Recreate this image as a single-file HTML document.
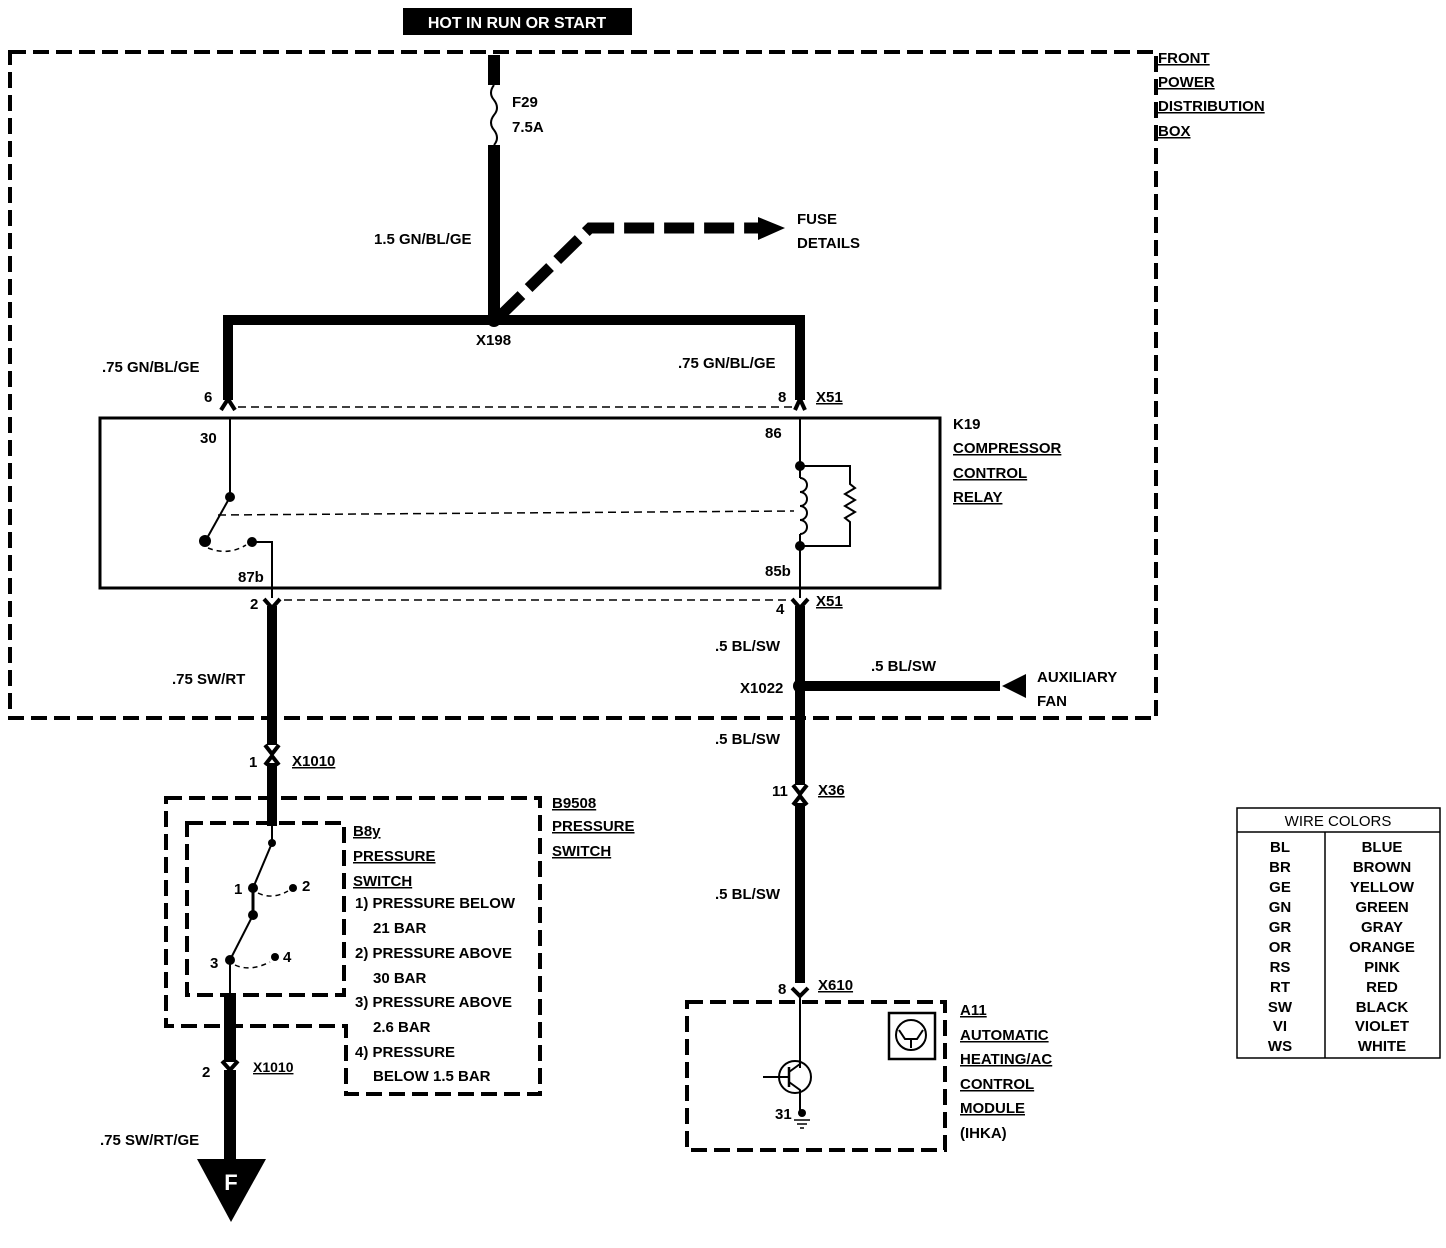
<!DOCTYPE html>
<html><head><style>
body{margin:0;background:#fff}
svg{display:block}
text{font-family:"Liberation Sans",sans-serif;font-weight:bold;font-size:15px;fill:#000}
.u{text-decoration:underline}
</style></head><body>
<svg width="1446" height="1248" viewBox="0 0 1446 1248" xmlns="http://www.w3.org/2000/svg">
<rect x="403" y="8" width="229" height="27" fill="#000"/>
<text x="517" y="28" text-anchor="middle" style="fill:#fff;font-size:16px">HOT IN RUN OR START</text>
<!-- outer box -->
<rect x="10" y="52" width="1146" height="666" fill="none" stroke="#000" stroke-width="4" stroke-dasharray="16,7"/>
<text x="1158" y="63" class="u">FRONT</text>
<text x="1158" y="87" class="u">POWER</text>
<text x="1158" y="111" class="u">DISTRIBUTION</text>
<text x="1158" y="136" class="u">BOX</text>
<!-- feed & fuse -->
<line x1="494" y1="55" x2="494" y2="85" stroke="#000" stroke-width="12"/>
<path d="M494 85 q-6 8 0 15 q6 8 0 15 q-6 8 0 15 q6 8 0 15" fill="none" stroke="#000" stroke-width="2"/>
<line x1="494" y1="145" x2="494" y2="320" stroke="#000" stroke-width="12"/>
<text x="512" y="107">F29</text><text x="512" y="132">7.5A</text>
<text x="374" y="244">1.5  GN/BL/GE</text>
<path d="M500 316 L590 228 L760 228" fill="none" stroke="#000" stroke-width="11" stroke-dasharray="30,10"/>
<polygon points="758,217 785,228 758,240" fill="#000"/>
<text x="797" y="224">FUSE</text><text x="797" y="248">DETAILS</text>
<path d="M228 400 L228 320 L800 320 L800 400" fill="none" stroke="#000" stroke-width="10"/>
<circle cx="494" cy="320" r="7" fill="#000"/>
<text x="476" y="345">X198</text>
<text x="102" y="372">.75 GN/BL/GE</text>
<text x="678" y="368">.75  GN/BL/GE</text>
<text x="204" y="402">6</text><text x="778" y="402">8</text><text x="816" y="402" class="u">X51</text>
<path d="M221 410 L228 399 L235 410 M795 410 L800 399 L805 410" fill="none" stroke="#000" stroke-width="4"/>
<line x1="238" y1="407" x2="792" y2="407" stroke="#000" stroke-width="1.5" stroke-dasharray="8,5"/>
<!-- relay -->
<rect x="100" y="418" width="840" height="170" fill="none" stroke="#000" stroke-width="3"/>
<text x="953" y="429">K19</text>
<text x="953" y="453" class="u">COMPRESSOR</text>
<text x="953" y="478" class="u">CONTROL</text>
<text x="953" y="502" class="u">RELAY</text>
<text x="200" y="443">30</text><text x="765" y="438">86</text>
<text x="238" y="582">87b</text><text x="765" y="576">85b</text>
<line x1="230" y1="418" x2="230" y2="497" stroke="#000" stroke-width="2"/>
<circle cx="230" cy="497" r="5" fill="#000"/>
<line x1="230" y1="497" x2="206" y2="540" stroke="#000" stroke-width="2"/>
<circle cx="205" cy="541" r="6" fill="#000"/>
<circle cx="252" cy="542" r="5" fill="#000"/>
<path d="M208 548 Q228 556 246 545" fill="none" stroke="#000" stroke-width="1.5" stroke-dasharray="5,4"/>
<path d="M252 542 L272 542 L272 598" fill="none" stroke="#000" stroke-width="2"/>
<line x1="218" y1="515" x2="795" y2="511" stroke="#000" stroke-width="1.5" stroke-dasharray="8,5"/>
<line x1="800" y1="418" x2="800" y2="598" stroke="#000" stroke-width="2"/>
<rect x="794" y="478" width="12" height="56" fill="#fff"/>
<path d="M800 478 a6 6 0 0 1 0 14 a6 6 0 0 1 0 14 a6 6 0 0 1 0 14 a6 6 0 0 1 0 14" fill="none" stroke="#000" stroke-width="2"/>
<path d="M800 466 L850 466 L850 484 l5 4 l-10 6 l10 6 l-10 6 l10 6 l-10 6 l5 4 L850 546 L800 546" fill="none" stroke="#000" stroke-width="2"/>
<circle cx="800" cy="466" r="5" fill="#000"/><circle cx="800" cy="546" r="5" fill="#000"/>
<!-- bottom connectors -->
<path d="M264 599 L272 608 L280 599 M792 599 L800 608 L808 599" fill="none" stroke="#000" stroke-width="4"/>
<line x1="284" y1="600" x2="790" y2="600" stroke="#000" stroke-width="1.5" stroke-dasharray="8,5"/>
<text x="250" y="609">2</text><text x="776" y="614">4</text><text x="816" y="606" class="u">X51</text>
<line x1="272" y1="606" x2="272" y2="745" stroke="#000" stroke-width="10"/>
<line x1="800" y1="606" x2="800" y2="785" stroke="#000" stroke-width="10"/>
<text x="172" y="684">.75  SW/RT</text>
<text x="715" y="651">.5  BL/SW</text>
<circle cx="800" cy="686" r="7" fill="#000"/>
<text x="740" y="693">X1022</text>
<line x1="800" y1="686" x2="1000" y2="686" stroke="#000" stroke-width="10"/>
<polygon points="1002,686 1026,674 1026,698" fill="#000"/>
<text x="871" y="671">.5  BL/SW</text>
<text x="1037" y="682">AUXILIARY</text><text x="1037" y="706">FAN</text>
<text x="715" y="744">.5  BL/SW</text>
<!-- X1010 top -->
<path d="M265 745 L272 754 L279 745 M265 765 L272 756 L279 765" fill="none" stroke="#000" stroke-width="4"/>
<text x="249" y="767">1</text><text x="292" y="766" class="u">X1010</text>
<line x1="272" y1="763" x2="272" y2="826" stroke="#000" stroke-width="10"/>
<!-- X36 -->
<path d="M793 785 L800 794 L807 785 M793 805 L800 796 L807 805" fill="none" stroke="#000" stroke-width="4"/>
<text x="772" y="796">11</text><text x="818" y="795" class="u">X36</text>
<line x1="800" y1="803" x2="800" y2="983" stroke="#000" stroke-width="10"/>
<text x="715" y="899">.5  BL/SW</text>
<!-- X610 -->
<path d="M792 988 L800 996 L808 988" fill="none" stroke="#000" stroke-width="4"/>
<text x="778" y="994">8</text><text x="818" y="990" class="u">X610</text>
<!-- module -->
<rect x="687" y="1002" width="258" height="148" fill="none" stroke="#000" stroke-width="4" stroke-dasharray="16,7"/>
<line x1="800" y1="996" x2="800" y2="1068" stroke="#000" stroke-width="2"/>
<circle cx="795" cy="1077" r="16" fill="none" stroke="#000" stroke-width="2"/>
<line x1="763" y1="1077" x2="789" y2="1077" stroke="#000" stroke-width="2"/>
<line x1="789" y1="1067" x2="789" y2="1087" stroke="#000" stroke-width="2.5"/>
<path d="M789 1072 L800 1064 M789 1082 L800 1090 L800 1115" fill="none" stroke="#000" stroke-width="2"/>
<circle cx="802" cy="1113" r="4" fill="#000"/>
<path d="M794 1120 h16 M797 1124 h10 M800 1128 h4" stroke="#000" stroke-width="1.5"/>
<text x="775" y="1119">31</text>
<rect x="889" y="1013" width="46" height="46" fill="none" stroke="#000" stroke-width="2.5"/>
<circle cx="911" cy="1035" r="15" fill="none" stroke="#000" stroke-width="2"/>
<path d="M899 1030 L905 1039 L917 1039 L923 1030 M911 1039 L911 1048" fill="none" stroke="#000" stroke-width="2"/>
<text x="960" y="1015" class="u">A11</text>
<text x="960" y="1040" class="u">AUTOMATIC</text>
<text x="960" y="1064" class="u">HEATING/AC</text>
<text x="960" y="1089" class="u">CONTROL</text>
<text x="960" y="1113" class="u">MODULE</text>
<text x="960" y="1138">(IHKA)</text>
<!-- pressure switch -->
<path d="M166 798 L540 798 L540 1094 L346 1094 L346 1026 L166 1026 Z" fill="none" stroke="#000" stroke-width="4" stroke-dasharray="16,7"/>
<rect x="187" y="823" width="157" height="172" fill="none" stroke="#000" stroke-width="4" stroke-dasharray="16,7"/>
<text x="552" y="808" class="u">B9508</text>
<text x="552" y="831" class="u">PRESSURE</text>
<text x="552" y="856" class="u">SWITCH</text>
<text x="353" y="836" class="u">B8y</text>
<text x="353" y="861" class="u">PRESSURE</text>
<text x="353" y="886" class="u">SWITCH</text>
<text x="355" y="908">1) PRESSURE BELOW</text>
<text x="373" y="933">21 BAR</text>
<text x="355" y="958">2) PRESSURE ABOVE</text>
<text x="373" y="983">30 BAR</text>
<text x="355" y="1007">3) PRESSURE ABOVE</text>
<text x="373" y="1032">2.6 BAR</text>
<text x="355" y="1057">4) PRESSURE</text>
<text x="373" y="1081">BELOW 1.5 BAR</text>
<line x1="272" y1="826" x2="272" y2="843" stroke="#000" stroke-width="2"/>
<circle cx="272" cy="843" r="4" fill="#000"/>
<line x1="272" y1="843" x2="253" y2="888" stroke="#000" stroke-width="2"/>
<circle cx="253" cy="888" r="5" fill="#000"/><circle cx="293" cy="888" r="4" fill="#000"/>
<path d="M258 893 Q272 900 288 891" fill="none" stroke="#000" stroke-width="1.5" stroke-dasharray="5,4"/>
<line x1="253" y1="888" x2="253" y2="915" stroke="#000" stroke-width="3"/>
<circle cx="253" cy="915" r="5" fill="#000"/>
<line x1="253" y1="915" x2="230" y2="960" stroke="#000" stroke-width="2"/>
<circle cx="230" cy="960" r="5" fill="#000"/><circle cx="275" cy="957" r="4" fill="#000"/>
<path d="M235 965 Q250 972 270 962" fill="none" stroke="#000" stroke-width="1.5" stroke-dasharray="5,4"/>
<line x1="230" y1="960" x2="230" y2="995" stroke="#000" stroke-width="2"/>
<text x="234" y="894">1</text><text x="302" y="891">2</text><text x="210" y="968">3</text><text x="283" y="962">4</text>
<line x1="230" y1="995" x2="230" y2="1062" stroke="#000" stroke-width="12"/>
<path d="M222 1061 L230 1070 L238 1061" fill="none" stroke="#000" stroke-width="4"/>
<text x="202" y="1077">2</text><text x="253" y="1072" class="u" style="font-size:14px">X1010</text>
<line x1="230" y1="1070" x2="230" y2="1162" stroke="#000" stroke-width="12"/>
<text x="100" y="1145">.75  SW/RT/GE</text>
<polygon points="197,1159 266,1159 231,1222" fill="#000"/>
<text x="231" y="1190" text-anchor="middle" style="fill:#fff;font-size:22px">F</text>
<!-- legend -->
<rect x="1237" y="808" width="203" height="250" fill="none" stroke="#000" stroke-width="1.5"/>
<line x1="1237" y1="832" x2="1440" y2="832" stroke="#000" stroke-width="1.5"/>
<line x1="1325" y1="832" x2="1325" y2="1058" stroke="#000" stroke-width="1.5"/>
<text x="1338" y="826" text-anchor="middle" style="font-weight:normal">WIRE COLORS</text>
<g style="font-weight:normal">
<text x="1280" y="852" text-anchor="middle">BL</text><text x="1382" y="852" text-anchor="middle">BLUE</text>
<text x="1280" y="872" text-anchor="middle">BR</text><text x="1382" y="872" text-anchor="middle">BROWN</text>
<text x="1280" y="892" text-anchor="middle">GE</text><text x="1382" y="892" text-anchor="middle">YELLOW</text>
<text x="1280" y="912" text-anchor="middle">GN</text><text x="1382" y="912" text-anchor="middle">GREEN</text>
<text x="1280" y="932" text-anchor="middle">GR</text><text x="1382" y="932" text-anchor="middle">GRAY</text>
<text x="1280" y="952" text-anchor="middle">OR</text><text x="1382" y="952" text-anchor="middle">ORANGE</text>
<text x="1280" y="972" text-anchor="middle">RS</text><text x="1382" y="972" text-anchor="middle">PINK</text>
<text x="1280" y="992" text-anchor="middle">RT</text><text x="1382" y="992" text-anchor="middle">RED</text>
<text x="1280" y="1012" text-anchor="middle">SW</text><text x="1382" y="1012" text-anchor="middle">BLACK</text>
<text x="1280" y="1031" text-anchor="middle">VI</text><text x="1382" y="1031" text-anchor="middle">VIOLET</text>
<text x="1280" y="1051" text-anchor="middle">WS</text><text x="1382" y="1051" text-anchor="middle">WHITE</text>
</g>
</svg>
</body></html>
